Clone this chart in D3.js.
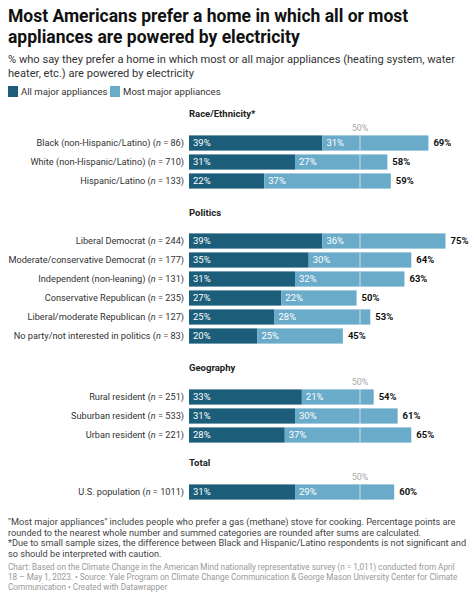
<!DOCTYPE html>
<html><head><meta charset="utf-8">
<script src="https://cdn.jsdelivr.net/npm/d3@7"></script>
<style>body{margin:0;background:#fff;font-family:Roboto,sans-serif}</style>
</head><body>
<svg id="chart" width="474" height="600"></svg>
<script>
// data
var sections = ["Race/Ethnicity*", "Politics", "Geography", "Total"]
var labels = [
  ["Black (non-Hispanic/Latino) (|n| = 86)", "White (non-Hispanic/Latino) (|n| = 710)", "Hispanic/Latino (|n| = 133)"],
  ["Liberal Democrat (|n| = 244)", "Moderate/conservative Democrat (|n| = 177)", "Independent (non-leaning) (|n| = 131)",
   "Conservative Republican (|n| = 235)", "Liberal/moderate Republican (|n| = 127)", "No party/not interested in politics (|n| = 83)"],
  ["Rural resident (|n| = 251)", "Suburban resident (|n| = 533)", "Urban resident (|n| = 221)"],
  ["U.S. population (|n| = 1011)"]
]
var allMajor = [[39, 31, 22], [39, 35, 31, 27, 25, 20], [33, 31, 28], [31]]
var mostMajor = [[31, 27, 37], [36, 30, 32, 22, 28, 25], [21, 30, 37], [29]]
var totals = [[69, 58, 59], [75, 64, 63, 50, 53, 45], [54, 61, 65], [60]]
var showFifty = [true, false, true, true]
var sectionTop = [113, 212, 367, 462]

var dark = "#1c5e79", light = "#6aabc9"
var svg = d3.select("#chart")
var x = d3.scaleLinear().domain([0, 100]).range([189, 531])

function txt(s, x0, y0, size, opts) {
  opts = opts || {}
  return svg.append("text").attr("x", x0).attr("y", y0).attr("font-size", size)
    .attr("fill", opts.fill || "#222").attr("font-weight", opts.bold ? "bold" : null)
    .attr("text-anchor", opts.anchor || "start").text(s)
}

txt("Most Americans prefer a home in which all or most", 8, 22, 17.5, {bold: true, fill: "#111"})
txt("appliances are powered by electricity", 8, 43, 17.5, {bold: true, fill: "#111"})
txt("% who say they prefer a home in which most or all major appliances (heating system, water", 8, 63, 11.1, {fill: "#333"})
txt("heater, etc.) are powered by electricity", 8, 77, 11.1, {fill: "#333"})

svg.append("rect").attr("x", 8).attr("y", 86).attr("width", 10).attr("height", 11).attr("fill", dark)
txt("All major appliances", 21, 95, 9.6, {fill: "#333"})
svg.append("rect").attr("x", 110).attr("y", 86).attr("width", 10).attr("height", 11).attr("fill", light)
txt("Most major appliances", 123, 95, 9.6, {fill: "#333"})

sections.forEach(function(sec, s) {
  var top = sectionTop[s]
  txt(sec, 189, top + 4, 9.5, {bold: true})
  var first = top + (showFifty[s] ? 30 : 29)
  if (showFifty[s]) txt("50%", x(50), top + 18, 9, {anchor: "middle", fill: "#aaa"})
  var y = d3.scaleBand().domain(d3.range(labels[s].length))
    .range([first - 9.5, first - 9.5 + 19 * labels[s].length]).paddingInner(0.2).paddingOuter(0.1)
  var g = svg.append("g")
  labels[s].forEach(function(lab, i) {
    var yy = y(i), h = y.bandwidth(), cy = yy + h / 2 + 3.3
    g.append("rect").attr("x", x(0)).attr("y", yy).attr("width", x(allMajor[s][i]) - x(0)).attr("height", h).attr("fill", dark)
    g.append("rect").attr("x", x(allMajor[s][i])).attr("y", yy).attr("width", x(mostMajor[s][i]) - x(0)).attr("height", h).attr("fill", light)
    if (allMajor[s][i] + mostMajor[s][i] > 50)
      g.append("line").attr("x1", x(50)).attr("x2", x(50)).attr("y1", yy).attr("y2", yy + h).attr("stroke", "#fff").attr("stroke-opacity", 0.6)
    txt(allMajor[s][i] + "%", x(0) + 4, cy, 9.5, {fill: "#fff"})
    txt(mostMajor[s][i] + "%", x(allMajor[s][i]) + 4, cy, 9.5, {fill: "#fff"})
    txt(totals[s][i] + "%", x(allMajor[s][i] + mostMajor[s][i]) + 5, cy, 9.5, {bold: true, fill: "#111"})
    var parts = lab.split("|")
    var t = txt("", 184, cy, 9.2, {anchor: "end", fill: "#333"})
    t.append("tspan").text(parts[0])
    t.append("tspan").attr("font-style", "italic").text(parts[1])
    t.append("tspan").text(parts[2])
  })
})

var notes = ["\"Most major appliances\" includes people who prefer a gas (methane) stove for cooking. Percentage points are",
  "rounded to the nearest whole number and summed categories are rounded after sums are calculated.",
  "*Due to small sample sizes, the difference between Black and Hispanic/Latino respondents is not significant and",
  "so should be interpreted with caution."]
notes.forEach(function(n, i) { txt(n, 8, 525 + i * 10.7, 9.2, {fill: "#444"}) })
var src = ["Chart: Based on the Climate Change in the American Mind nationally representative survey (n = 1,011) conducted from April",
  "18 – May 1, 2023. • Source: Yale Program on Climate Change Communication & George Mason University Center for Climate",
  "Communication • Created with Datawrapper"]
src.forEach(function(n, i) { txt(n, 8, 570 + i * 10, 8.2, {fill: "#999"}) })
</script>
</body></html>
